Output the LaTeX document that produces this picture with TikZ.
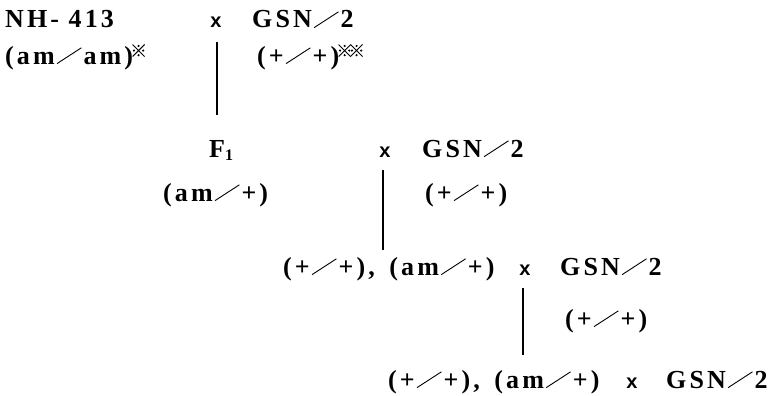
\documentclass[tikz,border=0pt]{standalone}
\usepackage{fontspec}
\usepackage{graphicx}
\setmainfont{Liberation Serif}
\newfontfamily\gfont[LetterSpace=12]{Liberation Serif Bold}
\newfontfamily\crossfont{Liberation Sans Bold}
\newcommand{\crossmark}{{\fontsize{20}{20}\selectfont\crossfont x}}
\newcommand{\refmark}{\raisebox{7pt}{\tikz[x=1pt,y=1pt,line width=0.9pt]{%
  \draw (0,0) -- (12,12) (0,12) -- (12,0);
  \fill (6,1.4) circle (1.2) (6,10.6) circle (1.2) (1.4,6) circle (1.2) (10.6,6) circle (1.2);}}}
\newcommand{\sls}{\kern2pt\rotatebox{33}{\rule{29pt}{0.9pt}}\kern2pt}
\tikzset{
  lbl/.style={anchor=base west, inner sep=0pt, font=\fontsize{26}{30}\selectfont\gfont},
  crs/.style={anchor=base, inner sep=0pt},
  vline/.style={line width=1.6pt}
}
\begin{document}
\begin{tikzpicture}[x=1pt,y=-1pt]
\useasboundingbox (0,0) rectangle (768,396);
% first cross
\node[lbl] (nh) at (5,28) {NH- 413};
\node[crs] (x1) at (216,28) {\crossmark};
\node[lbl] (gsn1) at (252,28) {GSN\sls2};
\node[lbl] (am1) at (5,64) {(am\sls am)\kern-1pt\refmark};
\node[lbl] (pp1) at (257,64) {(+\sls+)\kern-1pt\refmark\kern-1pt\refmark};
\coordinate (t1) at (217,42);
\coordinate (b1) at (217,115);
\draw[vline] (t1) -- (b1);
% backcross 1
\node[lbl] (f1) at (209,157) {F{\fontsize{16}{16}\selectfont\raisebox{-3pt}{1}}};
\node[crs] (x2) at (385,157) {\crossmark};
\node[lbl] (gsn2) at (422,157) {GSN\sls2};
\node[lbl] (am2) at (163,201) {(am\sls+)};
\node[lbl] (pp2) at (425,201) {(+\sls+)};
\coordinate (t2) at (383,170);
\coordinate (b2) at (383,250);
\draw[vline] (t2) -- (b2);
% backcross 2
\node[lbl] (bc2) at (283,275) {(+\sls+),\kern5pt\ (am\sls+)};
\node[crs] (x3) at (525,275) {\crossmark};
\node[lbl] (gsn3) at (560,275) {GSN\sls2};
\node[lbl] (pp3) at (565,327) {(+\sls+)};
\coordinate (t3) at (523,288);
\coordinate (b3) at (523,355);
\draw[vline] (t3) -- (b3);
% result
\node[lbl] (bc3) at (388,388) {(+\sls+),\kern5pt\ (am\sls+)};
\node[crs] (x4) at (632,388) {\crossmark};
\node[lbl] (gsn4) at (666,388) {GSN\sls2};
\end{tikzpicture}
\end{document}
